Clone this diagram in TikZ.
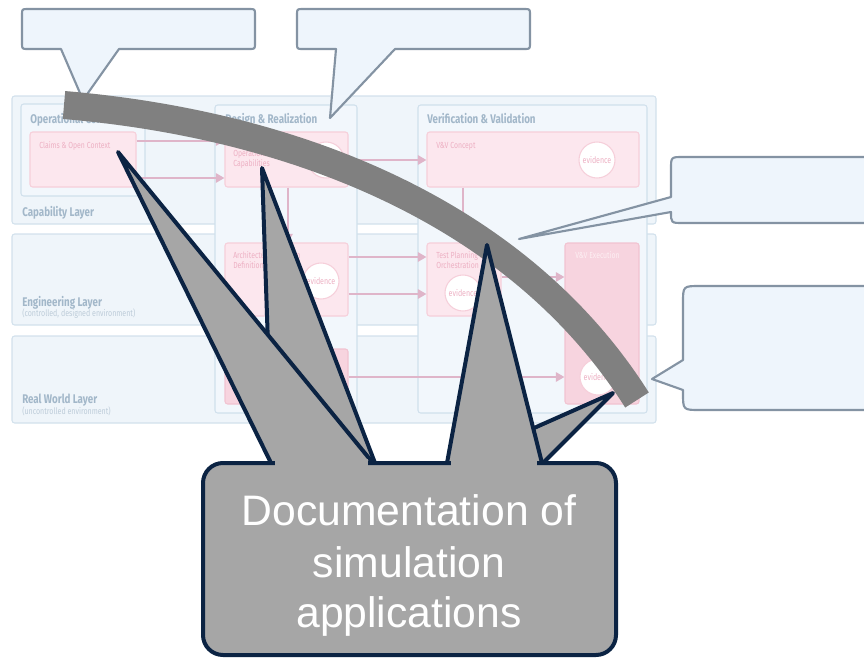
\documentclass[tikz,border=0pt]{standalone}
\usepackage{fontspec}
\setmainfont{Liberation Sans}
\newfontfamily\bgfont[FakeStretch=0.78]{Fira Sans}
\usetikzlibrary{arrows.meta,fit}
\definecolor{layerfill}{HTML}{EFF5FA}
\definecolor{layerdraw}{HTML}{D2E1EC}
\definecolor{colfill}{HTML}{F2F7FC}
\definecolor{coldraw}{HTML}{D0E0EC}
\definecolor{pinkfill}{HTML}{FCE7EE}
\definecolor{pinkdraw}{HTML}{F6CFDA}
\definecolor{pinkdark}{HTML}{F7D4DF}
\definecolor{pinkdarkdraw}{HTML}{F1C3D1}
\definecolor{pinkline}{HTML}{DFB5C9}
\definecolor{pinktext}{HTML}{EDB0C3}
\definecolor{pinklight}{HTML}{FDEFF3}
\definecolor{layertext}{HTML}{A2B7C9}
\definecolor{subtext}{HTML}{BDCCD9}
\definecolor{callfill}{HTML}{EEF5FC}
\definecolor{calldraw}{HTML}{8493A3}
\definecolor{bargray}{HTML}{808080}
\definecolor{docfill}{HTML}{A6A6A6}
\definecolor{docline}{HTML}{0B2343}
\begin{document}
\begin{tikzpicture}[x=0.75pt,y=-0.75pt,
  layerbox/.style={draw=layerdraw, fill=layerfill, line width=0.8pt, rounded corners=2pt, inner sep=0pt},
  colbox/.style={draw=coldraw, fill=colfill, line width=0.8pt, rounded corners=2pt, inner sep=0pt},
  pinkbox/.style={draw=pinkdraw, fill=pinkfill, line width=0.8pt, rounded corners=2pt, inner sep=0pt},
  pinkdbox/.style={draw=pinkdarkdraw, fill=pinkdark, line width=0.8pt, rounded corners=2pt, inner sep=0pt},
  evid/.style={circle, draw=pinkdraw, fill=white, line width=0.8pt, minimum size=27pt, inner sep=0pt, font=\bgfont\fontsize{6.8}{8}\selectfont, text=pinktext},
  ltitle/.style={anchor=base west, inner sep=0pt, font=\bgfont\bfseries\fontsize{9.4}{11}\selectfont, text=layertext},
  lsub/.style={anchor=base west, inner sep=0pt, font=\bgfont\fontsize{6.8}{8}\selectfont, text=subtext},
  ptext/.style={anchor=base west, inner sep=0pt, font=\bgfont\fontsize{6.6}{8}\selectfont, text=pinktext},
  parrow/.style={draw=pinkline, line width=2.2pt, -{Triangle[length=6.5pt,width=7pt]}},
  lcall/.style={fill=callfill, draw=calldraw, line width=1.6pt, line join=round},
  bar/.style={draw=bargray, line width=21pt},
  wedge/.style={fill=docfill},
  wedgeline/.style={draw=docline, line width=3pt, line join=round, line cap=round},
  doc/.style={fill=docfill, draw=docline, line width=3pt, rounded corners=15pt, inner sep=0pt},
  doctext/.style={anchor=base, inner sep=0pt, text=white, font=\fontsize{32}{38}\selectfont}]
\useasboundingbox (0,0) rectangle (864,657);
\clip (0,0) rectangle (864,657);

% ---- faded background diagram: layers
\node[layerbox, fit={(12,96) (656,224)}] (capL) {};
\node[layerbox, fit={(12,234) (656,325)}] (engL) {};
\node[layerbox, fit={(12,336) (656,423)}] (rwL) {};
% columns
\node[colbox, fit={(21,104) (145,196)}] (opC) {};
\node[colbox, fit={(215,105) (357,413)}] (drC) {};
\node[colbox, fit={(418,105) (647,413)}] (vvC) {};
% titles
\node[ltitle] (capT) at (22,216) {Capability Layer};
\node[ltitle] (engT) at (22,306) {Engineering Layer};
\node[lsub] (engS) at (22,316) {(controlled, designed environment)};
\node[ltitle] (rwT) at (22,403) {Real World Layer};
\node[lsub] (rwS) at (22,414) {(uncontrolled environment)};
\node[ltitle] (opT) at (30,123) {Operational Context};
\node[ltitle] (drT) at (225,123) {Design \& Realization};
\node[ltitle] (vvT) at (427,123) {Verification \& Validation};
% pink boxes
\node[pinkbox, fit={(30,132) (136,187)}] (claims) {};
\node[pinkbox, fit={(225,132) (348,187)}] (dr1) {};
\node[pinkbox, fit={(225,243) (348,316)}] (arch) {};
\node[pinkdbox, fit={(225,349) (348,404)}] (impl) {};
\node[pinkbox, fit={(427,132) (639,187)}] (vvcon) {};
\node[pinkbox, fit={(427,243) (501,316)}] (tpo) {};
\node[pinkdbox, fit={(565,243) (639,404)}] (vvex) {};
\node[ptext] (claimsT) at (39,148) {Claims \& Open Context};
\node[ptext] (dr1a) at (233,156) {Operational};
\node[ptext] (dr1b) at (233,166) {Capabilities};
\node[ptext] (archa) at (233,258) {Architecture \& Design};
\node[ptext] (archb) at (233,268) {Definition};
\node[ptext] (vvconT) at (436,148) {V\&V Concept};
\node[ptext] (tpoa) at (436,258) {Test Planning \&};
\node[ptext] (tpob) at (436,268) {Orchestration};
\node[ptext, text=pinklight] (vvexT) at (575,258) {V\&V Execution};
% evidence circles
\node[evid] (ev1) at (326,160) {evidence};
\node[evid] (ev2) at (597,160) {evidence};
\node[evid] (ev3) at (321,281) {evidence};
\node[evid] (ev4) at (463,293) {evidence};
\node[evid] (ev5) at (598,377) {evidence};
% pink arrows
\draw[parrow] (claims.east |- 0,141) -- (dr1.west |- 0,141);
\draw[parrow] (claims.east |- 0,178) -- (dr1.west |- 0,178);
\draw[parrow] (dr1.east |- 0,160) -- (vvcon.west |- 0,160);
\draw[parrow] (dr1.south -| 288,0) -- (arch.north -| 288,0);
\draw[parrow] (vvcon.south -| 463,0) -- (tpo.north -| 463,0);
\draw[parrow] (arch.east |- 0,257) -- (tpo.west |- 0,257);
\draw[parrow] (arch.east |- 0,294) -- (tpo.west |- 0,294);
\draw[parrow] (tpo.east |- 0,277) -- (vvex.west |- 0,277);
\draw[parrow] (impl.east |- 0,377) -- (vvex.west |- 0,377);

% ---- light empty callouts
\path[lcall] (28,9) -- (249,9) .. controls (255,9) .. (255,15) -- (255,43) .. controls (255,49) .. (249,49) -- (119,49) -- (83,100) -- (61,49) -- (28,49) .. controls (22,49) .. (22,43) -- (22,15) .. controls (22,9) .. (28,9) -- cycle;
\path[lcall] (303,9) -- (524,9) .. controls (530,9) .. (530,15) -- (530,43) .. controls (530,49) .. (524,49) -- (395,49) -- (330,118) -- (336,49) -- (303,49) .. controls (297,49) .. (297,43) -- (297,15) .. controls (297,9) .. (303,9) -- cycle;
\path[lcall] (683,157) -- (890,157) -- (890,223) -- (683,223) .. controls (671,223) .. (671,212) -- (519,239) -- (671,197) -- (671,169) .. controls (671,157) .. (683,157) -- cycle;
\path[lcall] (700,286) -- (890,286) -- (890,410) -- (700,410) .. controls (683,410) .. (683,393) -- (683,390) -- (652,379) -- (683,360) -- (683,303) .. controls (683,286) .. (700,286) -- cycle;

% ---- gray curved bar
\draw[bar] (64,105) .. controls (300,125) and (520,215) .. (637,400);

% ---- dark callout with several pointers
\fill[wedge] (262,168) -- (272,463) -- (272,476) -- (375,476) -- (375,463) -- cycle;
\draw[wedgeline] (272,463) -- (262,168) -- (375,463);
\fill[wedge] (118,152) -- (271,463) -- (271,476) -- (373,476) -- (373,463) -- cycle;
\draw[wedgeline] (271,463) -- (118,152) -- (373,463);
\fill[wedge] (613,393) -- (455,463) -- (455,476) -- (543,476) -- (543,463) -- cycle;
\draw[wedgeline] (455,463) -- (613,393) -- (543,463);
\fill[wedge] (487,245) -- (447,463) -- (447,476) -- (542,476) -- (542,463) -- cycle;
\draw[wedgeline] (447,463) -- (487,245) -- (542,463);
\node[doc, fit={(203,463) (616,655)}] (doc) {};
\fill[docfill] (275,459) rectangle (368,470);
\fill[docfill] (451,459) rectangle (537,470);
\node[doctext] (t1) at (409,525) {Documentation of};
\node[doctext] (t2) at (409,577) {simulation};
\node[doctext] (t3) at (409,627) {applications};
\end{tikzpicture}
\end{document}
